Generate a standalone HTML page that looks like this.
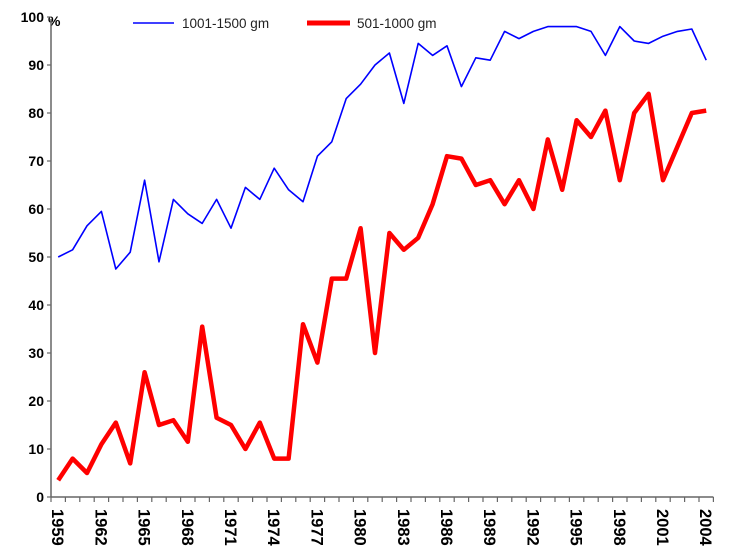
<!DOCTYPE html>
<html><head><meta charset="utf-8"><style>
html,body{margin:0;padding:0;background:#fff;}
svg{display:block;font-family:"Liberation Sans",Arial,sans-serif;}
</style></head><body>
<svg id="c" width="736" height="560" viewBox="0 0 736 560" xmlns="http://www.w3.org/2000/svg">
<rect width="736" height="560" fill="#fff"/>
<line x1="133" y1="23" x2="174" y2="23" stroke="#0000ff" stroke-width="1.6"/>
<text x="182" y="28" font-size="13.5" fill="#222">1001-1500 gm</text>
<line x1="307" y1="23" x2="350" y2="23" stroke="#ff0000" stroke-width="5"/>
<text x="357" y="28" font-size="13.5" fill="#222">501-1000 gm</text>
<text x="48" y="26" font-size="14" font-weight="bold">%</text>
</svg>
<script>
var s=document.getElementById('c'),ns='http://www.w3.org/2000/svg';
function el(t,a,txt){var e=document.createElementNS(ns,t);for(var k in a)e.setAttribute(k,a[k]);if(txt!=null)e.textContent=txt;s.appendChild(e);return e;}
var X0=51,Y0=497,PY=4.8,n=46,step=14.4,X1=X0+step*n;
function x(i){return X0+step*(i+0.5);}function y(v){return Y0-v*PY;}
el('line',{x1:X0,y1:y(100)+2,x2:X0,y2:Y0,stroke:'#666','stroke-width':1.5});
el('line',{x1:X0,y1:Y0,x2:X1,y2:Y0,stroke:'#666','stroke-width':1.5});
for(var v=0;v<=100;v+=10){el('line',{x1:X0-4,y1:y(v),x2:X0,y2:y(v),stroke:'#666','stroke-width':1.2});
el('text',{x:44,y:y(v)+5,'font-size':14,'font-weight':'bold','text-anchor':'end'},String(v));}
for(var i=0;i<=n;i++){el('line',{x1:X0+step*i,y1:Y0,x2:X0+step*i,y2:Y0+5,stroke:'#666','stroke-width':1.2});}
for(var i=0;i<n;i+=3){var xx=x(i);el('text',{x:0,y:0,'font-size':16.5,'font-weight':'bold',transform:'translate('+(xx-6)+','+(Y0+12)+') rotate(90)'},String(1959+i));}
var b=[50,51.5,56.5,59.5,47.5,51,66,49,62,59,57,62,56,64.5,62,68.5,64,61.5,71,74,83,86,90,92.5,82,94.5,92,94,85.5,91.5,91,97,95.5,97,98,98,98,97,92,98,95,94.5,96,97,97.5,91];
var r=[3.5,8,5,11,15.5,7,26,15,16,11.5,35.5,16.5,15,10,15.5,8,8,36,28,45.5,45.5,56,30,55,51.5,54,61,71,70.5,65,66,61,66,60,74.5,64,78.5,75,80.5,66,80,84,66,73,80,80.5];
function pts(a){return a.map(function(v,i){return x(i).toFixed(1)+','+y(v).toFixed(1);}).join(' ');}
el('polyline',{points:pts(b),fill:'none',stroke:'#0000ff','stroke-width':1.6,'stroke-linejoin':'round'});
el('polyline',{points:pts(r),fill:'none',stroke:'#ff0000','stroke-width':4.5,'stroke-linejoin':'round'});
</script>
</body></html>
